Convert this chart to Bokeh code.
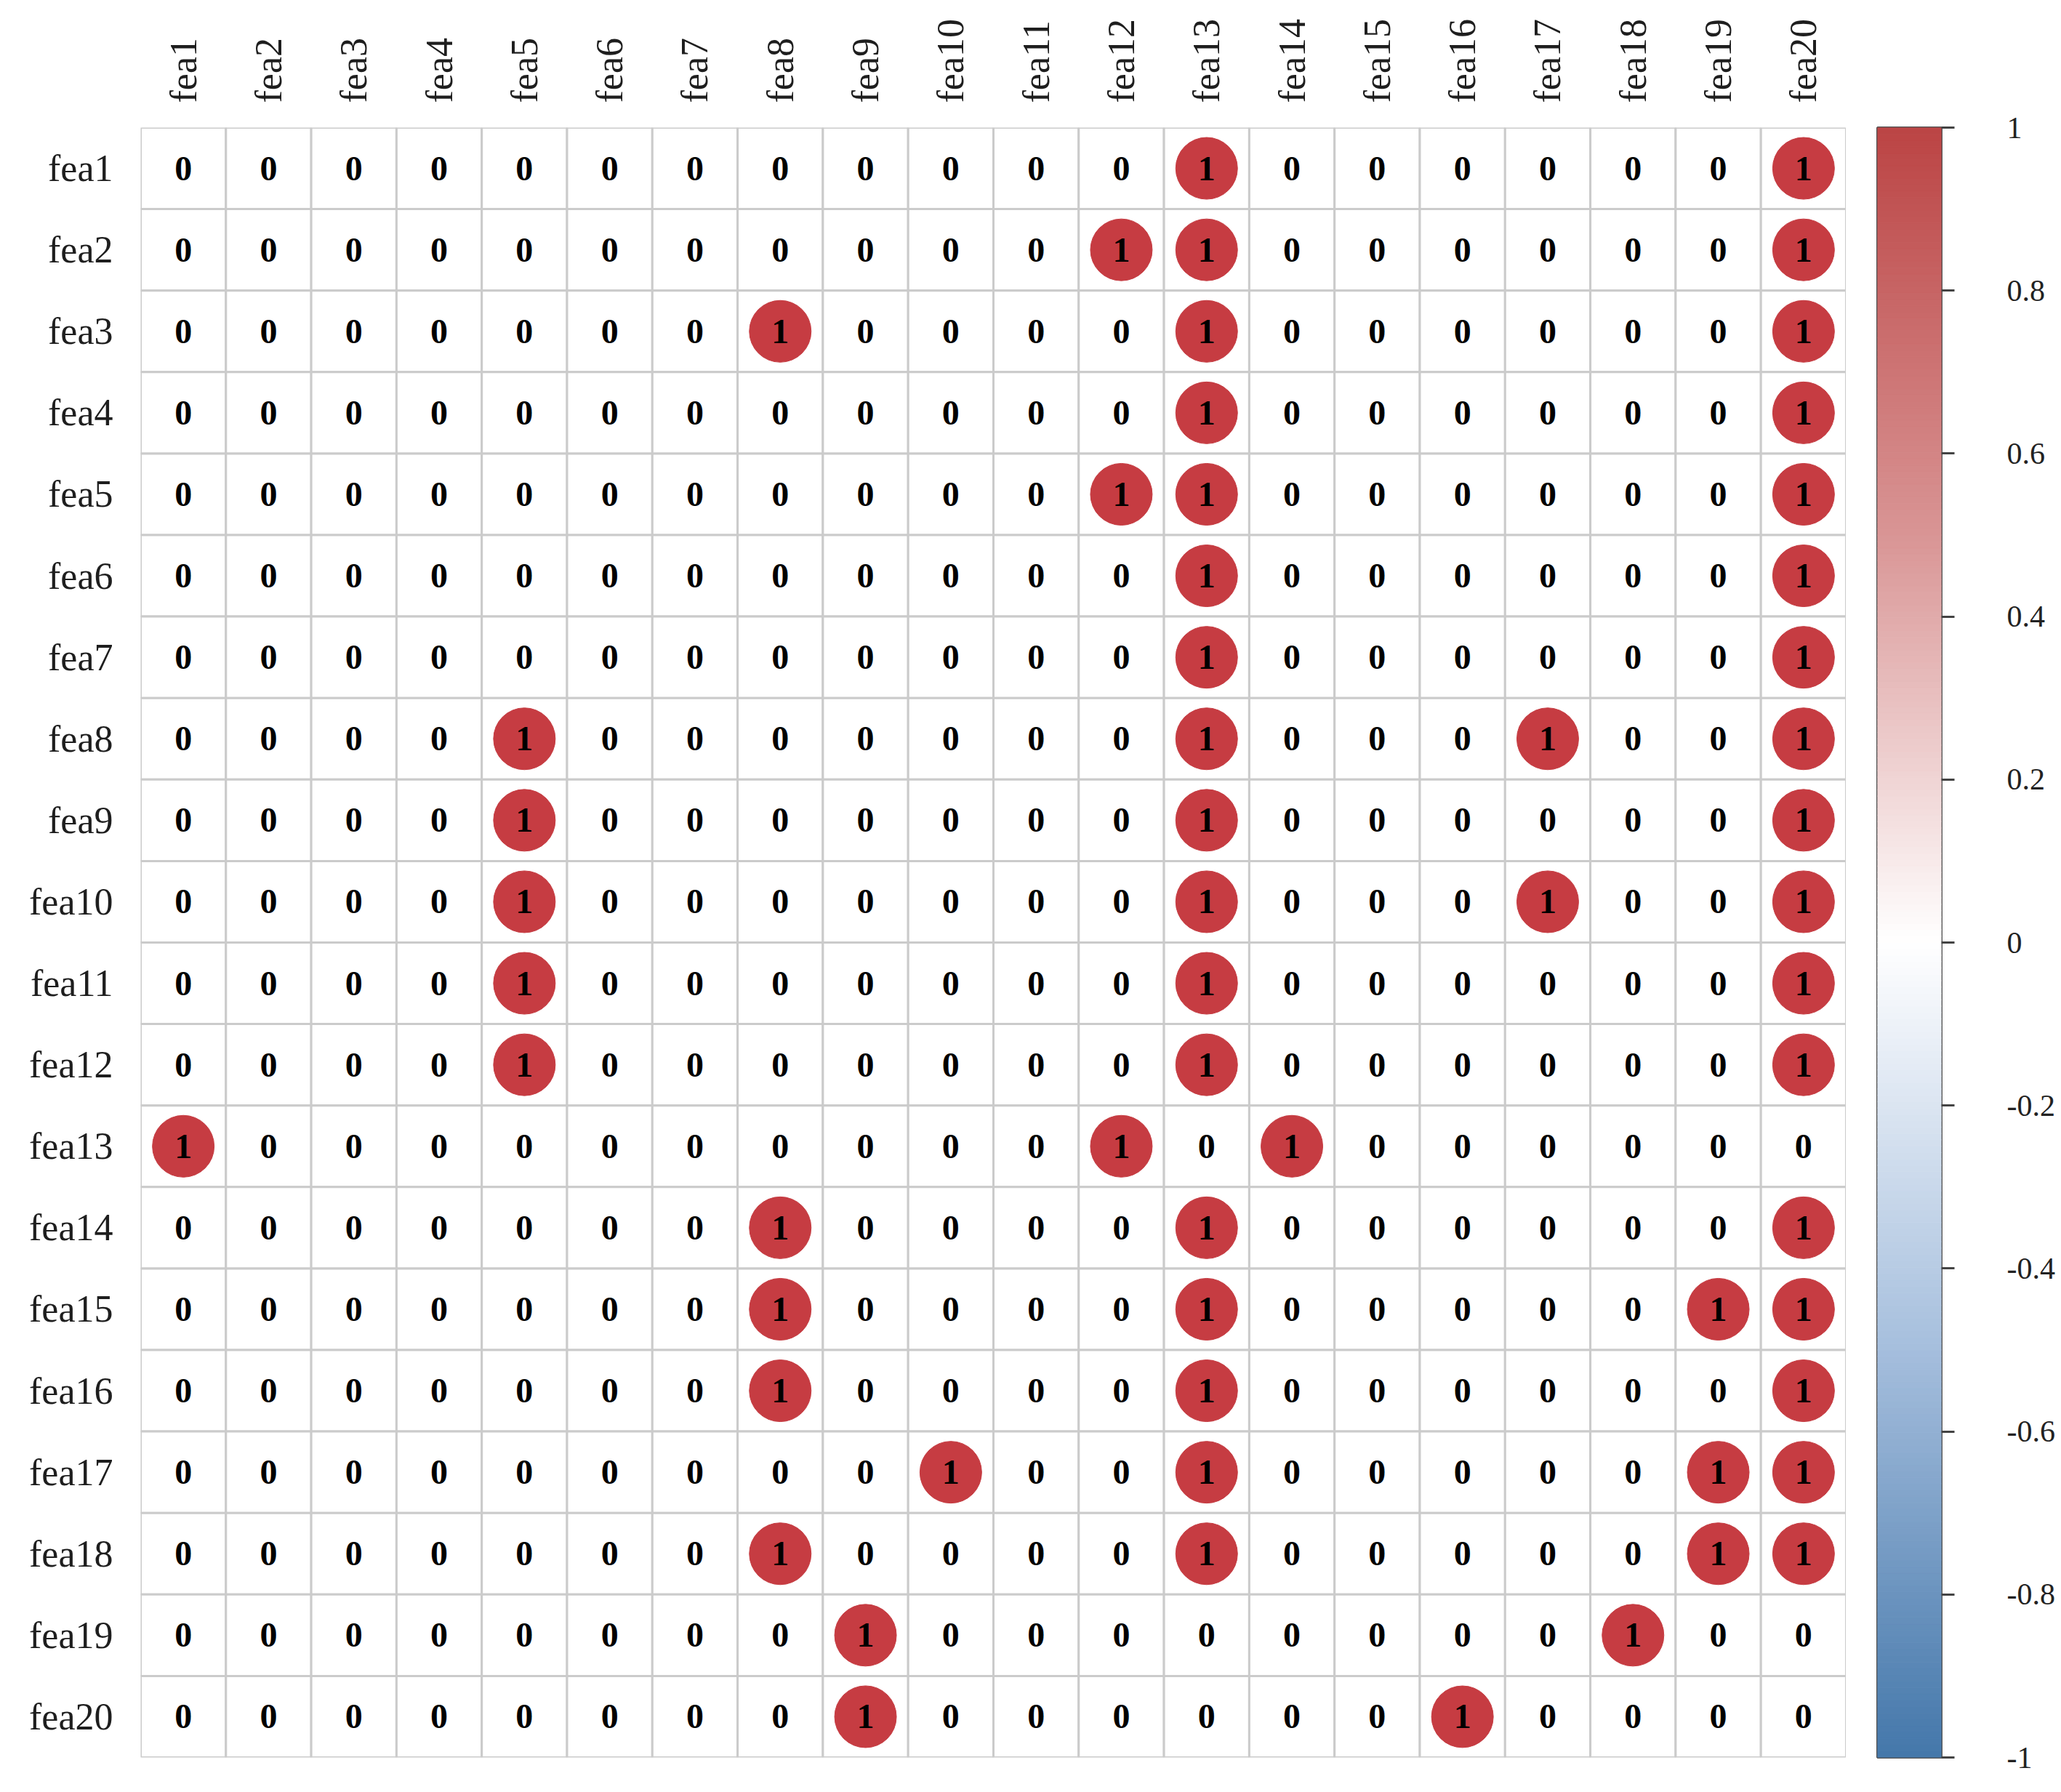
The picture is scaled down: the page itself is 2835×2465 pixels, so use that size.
import math
import numpy as np
from bokeh.plotting import figure
from bokeh.models import ColumnDataSource, FactorRange, Range1d, FixedTicker
from bokeh.layouts import row
from bokeh.embed import file_html
from bokeh.resources import INLINE
from bokeh.core.properties import value

# ---------------- data ----------------
features = ["fea1", "fea2", "fea3", "fea4", "fea5", "fea6", "fea7", "fea8", "fea9", "fea10",
            "fea11", "fea12", "fea13", "fea14", "fea15", "fea16", "fea17", "fea18", "fea19", "fea20"]

# rows: fea1..fea20, columns: fea1..fea20
matrix = [
    [0, 0, 0, 0, 0, 0, 0, 0, 0, 0, 0, 0, 1, 0, 0, 0, 0, 0, 0, 1],  # fea1
    [0, 0, 0, 0, 0, 0, 0, 0, 0, 0, 0, 1, 1, 0, 0, 0, 0, 0, 0, 1],  # fea2
    [0, 0, 0, 0, 0, 0, 0, 1, 0, 0, 0, 0, 1, 0, 0, 0, 0, 0, 0, 1],  # fea3
    [0, 0, 0, 0, 0, 0, 0, 0, 0, 0, 0, 0, 1, 0, 0, 0, 0, 0, 0, 1],  # fea4
    [0, 0, 0, 0, 0, 0, 0, 0, 0, 0, 0, 1, 1, 0, 0, 0, 0, 0, 0, 1],  # fea5
    [0, 0, 0, 0, 0, 0, 0, 0, 0, 0, 0, 0, 1, 0, 0, 0, 0, 0, 0, 1],  # fea6
    [0, 0, 0, 0, 0, 0, 0, 0, 0, 0, 0, 0, 1, 0, 0, 0, 0, 0, 0, 1],  # fea7
    [0, 0, 0, 0, 1, 0, 0, 0, 0, 0, 0, 0, 1, 0, 0, 0, 1, 0, 0, 1],  # fea8
    [0, 0, 0, 0, 1, 0, 0, 0, 0, 0, 0, 0, 1, 0, 0, 0, 0, 0, 0, 1],  # fea9
    [0, 0, 0, 0, 1, 0, 0, 0, 0, 0, 0, 0, 1, 0, 0, 0, 1, 0, 0, 1],  # fea10
    [0, 0, 0, 0, 1, 0, 0, 0, 0, 0, 0, 0, 1, 0, 0, 0, 0, 0, 0, 1],  # fea11
    [0, 0, 0, 0, 1, 0, 0, 0, 0, 0, 0, 0, 1, 0, 0, 0, 0, 0, 0, 1],  # fea12
    [1, 0, 0, 0, 0, 0, 0, 0, 0, 0, 0, 1, 0, 1, 0, 0, 0, 0, 0, 0],  # fea13
    [0, 0, 0, 0, 0, 0, 0, 1, 0, 0, 0, 0, 1, 0, 0, 0, 0, 0, 0, 1],  # fea14
    [0, 0, 0, 0, 0, 0, 0, 1, 0, 0, 0, 0, 1, 0, 0, 0, 0, 0, 1, 1],  # fea15
    [0, 0, 0, 0, 0, 0, 0, 1, 0, 0, 0, 0, 1, 0, 0, 0, 0, 0, 0, 1],  # fea16
    [0, 0, 0, 0, 0, 0, 0, 0, 0, 1, 0, 0, 1, 0, 0, 0, 0, 0, 1, 1],  # fea17
    [0, 0, 0, 0, 0, 0, 0, 1, 0, 0, 0, 0, 1, 0, 0, 0, 0, 0, 1, 1],  # fea18
    [0, 0, 0, 0, 0, 0, 0, 0, 1, 0, 0, 0, 0, 0, 0, 0, 0, 1, 0, 0],  # fea19
    [0, 0, 0, 0, 0, 0, 0, 0, 1, 0, 0, 0, 0, 0, 0, 1, 0, 0, 0, 0],  # fea20
]

cbar_ticks = [-1.0, -0.8, -0.6, -0.4, -0.2, 0.0, 0.2, 0.4, 0.6, 0.8, 1.0]
cbar_labels = ["-1", "-0.8", "-0.6", "-0.4", "-0.2", "0", "0.2", "0.4", "0.6", "0.8", "1"]
palette_anchors = ["#4477AA", "#A5BEDD", "#FFFFFF", "#D99595", "#BB4444"]  # from -1 to 1
circle_color = "#C63C42"

# ---------------- build sources ----------------
xs, ys, vals, txt = [], [], [], []
for i, rname in enumerate(features):
    for j, cname in enumerate(features):
        xs.append(cname)
        ys.append(rname)
        vals.append(matrix[i][j])
        txt.append(str(matrix[i][j]))
cells = ColumnDataSource(dict(x=xs, y=ys, v=vals, t=txt))
ones = ColumnDataSource(dict(
    x=[x for x, v in zip(xs, vals) if v == 1],
    y=[y for y, v in zip(ys, vals) if v == 1],
))

FONT = "Liberation Serif"
H = 2448

# ---------------- main matrix ----------------
p = figure(width=2539, height=H,
           x_range=FactorRange(factors=features),
           y_range=FactorRange(factors=features[::-1]),
           x_axis_location="above",
           output_backend="svg", toolbar_location=None,
           min_border_left=193, min_border_top=175,
           min_border_bottom=31, min_border_right=0)
p.outline_line_color = None
p.grid.grid_line_color = None
p.background_fill_color = "white"

p.rect(x="x", y="y", width=1, height=1, source=cells,
       fill_color="white", line_color="#cbcbcb", line_width=3)
p.scatter(x="x", y="y", source=ones, marker="circle", size=85,
          fill_color=circle_color, line_color=circle_color)
p.text(x="x", y="y", text="t", source=cells,
       text_font=value(FONT), text_font_style="bold", text_font_size="48px",
       text_align="center", text_baseline="middle", text_color="#000000")

for ax in (p.xaxis[0], p.yaxis[0]):
    ax.axis_line_color = None
    ax.major_tick_line_color = None
    ax.minor_tick_line_color = None
    ax.major_label_text_font = FONT
    ax.major_label_text_font_size = "52px"
    ax.major_label_text_color = "#1e1e1e"
p.xaxis.major_label_orientation = math.pi / 2
p.xaxis.major_label_standoff = 28
p.yaxis.major_label_standoff = 32

# ---------------- colour bar ----------------
def hex2rgb(h):
    h = h.lstrip("#")
    return np.array([int(h[k:k + 2], 16) for k in (0, 2, 4)], dtype=float)

anchor_pos = np.linspace(-1, 1, len(palette_anchors))
anchor_rgb = np.array([hex2rgb(c) for c in palette_anchors])
N = 256
edges = np.linspace(-1, 1, N + 1)
mids = (edges[:-1] + edges[1:]) / 2
cols = []
for m in mids:
    rgb = [np.interp(m, anchor_pos, anchor_rgb[:, k]) for k in range(3)]
    cols.append("#%02x%02x%02x" % tuple(int(round(c)) for c in rgb))

cb = figure(width=290, height=H,
            x_range=Range1d(0, 1), y_range=Range1d(-1, 1),
            x_axis_location=None, y_axis_location="right",
            output_backend="svg", toolbar_location=None,
            min_border_left=43, min_border_right=159,
            min_border_top=175, min_border_bottom=31)
cb.grid.grid_line_color = None
cb.outline_line_color = "#555555"
cb.outline_line_width = 3
cb.quad(left=0, right=1, bottom=edges[:-1], top=edges[1:],
        fill_color=cols, line_color=cols, line_width=1)

yax = cb.yaxis[0]
yax.ticker = FixedTicker(ticks=cbar_ticks, minor_ticks=[])
yax.major_label_overrides = {t: l for t, l in zip(cbar_ticks, cbar_labels)}
yax.axis_line_color = None
yax.major_tick_in = 0
yax.major_tick_out = 18
yax.major_tick_line_color = "#444444"
yax.major_tick_line_width = 3
yax.minor_tick_line_color = None
yax.major_label_standoff = 72
yax.major_label_text_font = FONT
yax.major_label_text_font_size = "42px"
yax.major_label_text_color = "#222222"

layout = row(p, cb)
open("out.html", "w").write(file_html(layout, INLINE))
